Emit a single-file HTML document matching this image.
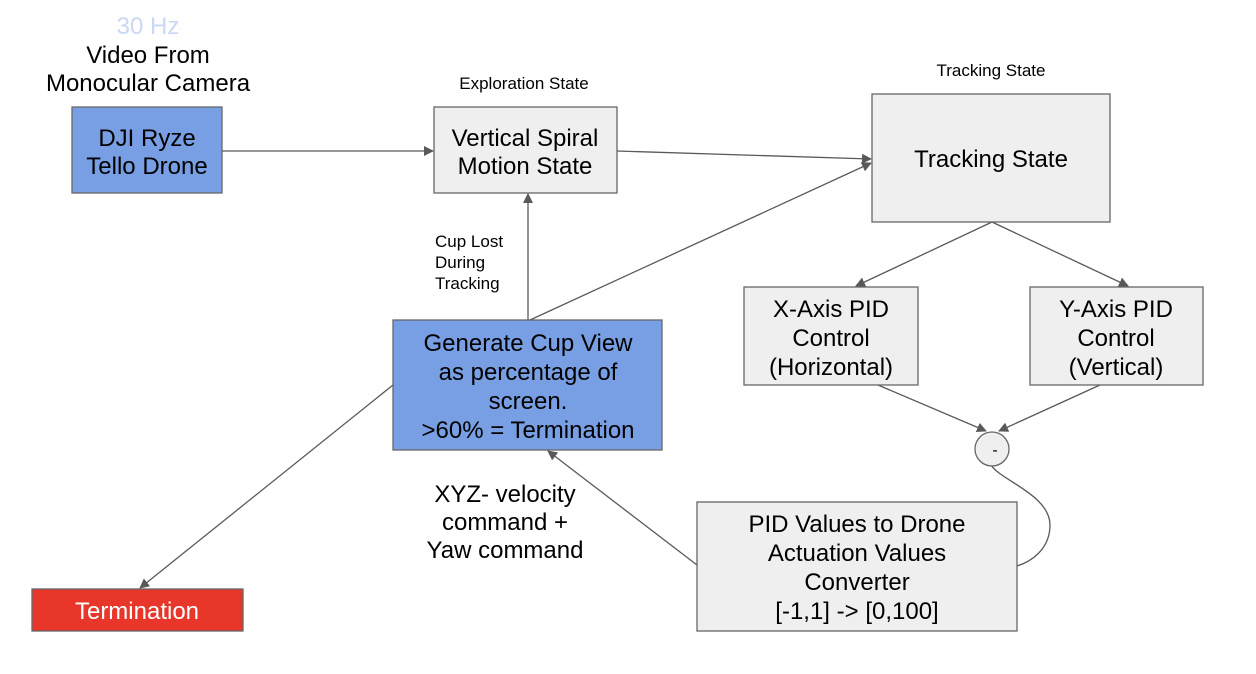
<!DOCTYPE html>
<html><head><meta charset="utf-8"><style>
body{margin:0;background:#fff;}
svg{display:block;font-family:"Liberation Sans",Arial,sans-serif;}
</style></head><body>
<svg width="1256" height="674" viewBox="0 0 1256 674" xmlns="http://www.w3.org/2000/svg">
<defs>
<marker id="a" markerWidth="10" markerHeight="10" refX="9" refY="5" orient="auto" markerUnits="userSpaceOnUse">
<path d="M0,0 L10,5 L0,10 z" fill="#595959"/></marker>
</defs>
<g stroke="#595959" stroke-width="1.3" fill="none">
<line x1="222" y1="151" x2="433" y2="151" marker-end="url(#a)"/>
<line x1="617" y1="151" x2="871" y2="159" marker-end="url(#a)"/>
<line x1="528" y1="320" x2="528" y2="194" marker-end="url(#a)"/>
<line x1="530" y1="320" x2="871" y2="163" marker-end="url(#a)"/>
<line x1="992" y1="222" x2="856" y2="286" marker-end="url(#a)"/>
<line x1="992" y1="222" x2="1128" y2="286" marker-end="url(#a)"/>
<line x1="878" y1="385" x2="986" y2="431" marker-end="url(#a)"/>
<line x1="1100" y1="385" x2="999" y2="431" marker-end="url(#a)"/>
<line x1="697" y1="565" x2="548" y2="451" marker-end="url(#a)"/>
<line x1="393" y1="385" x2="140" y2="588" marker-end="url(#a)"/>
<path d="M991,465 C1000,480 1050,495 1050,525 C1050,550 1030,562 1017,566"/>
</g>
<g stroke="#666" stroke-width="1.3">
<rect x="72" y="107" width="150" height="86" fill="#789fe3"/>
<rect x="434" y="107" width="183" height="86" fill="#efefef"/>
<rect x="872" y="94" width="238" height="128" fill="#efefef"/>
<rect x="744" y="287" width="174" height="98" fill="#efefef"/>
<rect x="1030" y="287" width="173" height="98" fill="#efefef"/>
<rect x="393" y="320" width="269" height="130" fill="#789fe3"/>
<rect x="697" y="502" width="320" height="129" fill="#efefef"/>
<rect x="32" y="589" width="211" height="42" fill="#e8372a"/>
<circle cx="992" cy="449" r="17" fill="#efefef"/>
</g>
<g font-size="24" fill="#000" text-anchor="middle">
<text x="148" y="34" fill="#c9d8f5">30 Hz</text>
<text x="148" y="63">Video From</text>
<text x="148" y="91">Monocular Camera</text>
<text x="147" y="146">DJI Ryze</text>
<text x="147" y="174">Tello Drone</text>
<text x="525" y="146">Vertical Spiral</text>
<text x="525" y="174">Motion State</text>
<text x="991" y="167">Tracking State</text>
<text x="831" y="317">X-Axis PID</text>
<text x="831" y="346">Control</text>
<text x="831" y="375">(Horizontal)</text>
<text x="1116" y="317">Y-Axis PID</text>
<text x="1116" y="346">Control</text>
<text x="1116" y="375">(Vertical)</text>
<text x="528" y="351">Generate Cup View</text>
<text x="528" y="380">as percentage of</text>
<text x="528" y="409">screen.</text>
<text x="528" y="438">&gt;60% = Termination</text>
<text x="857" y="532">PID Values to Drone</text>
<text x="857" y="561">Actuation Values</text>
<text x="857" y="590">Converter</text>
<text x="857" y="619">[-1,1] -&gt; [0,100]</text>
<text x="505" y="502">XYZ- velocity</text>
<text x="505" y="530">command +</text>
<text x="505" y="558">Yaw command</text>
<text x="137" y="619" fill="#fff">Termination</text>
<text x="995" y="455" font-size="16">-</text>
</g>
<g font-size="17" fill="#000">
<text x="524" y="89" text-anchor="middle">Exploration State</text>
<text x="991" y="76" text-anchor="middle">Tracking State</text>
<text x="435" y="247">Cup Lost</text>
<text x="435" y="268">During</text>
<text x="435" y="289">Tracking</text>
</g>
</svg>
</body></html>
